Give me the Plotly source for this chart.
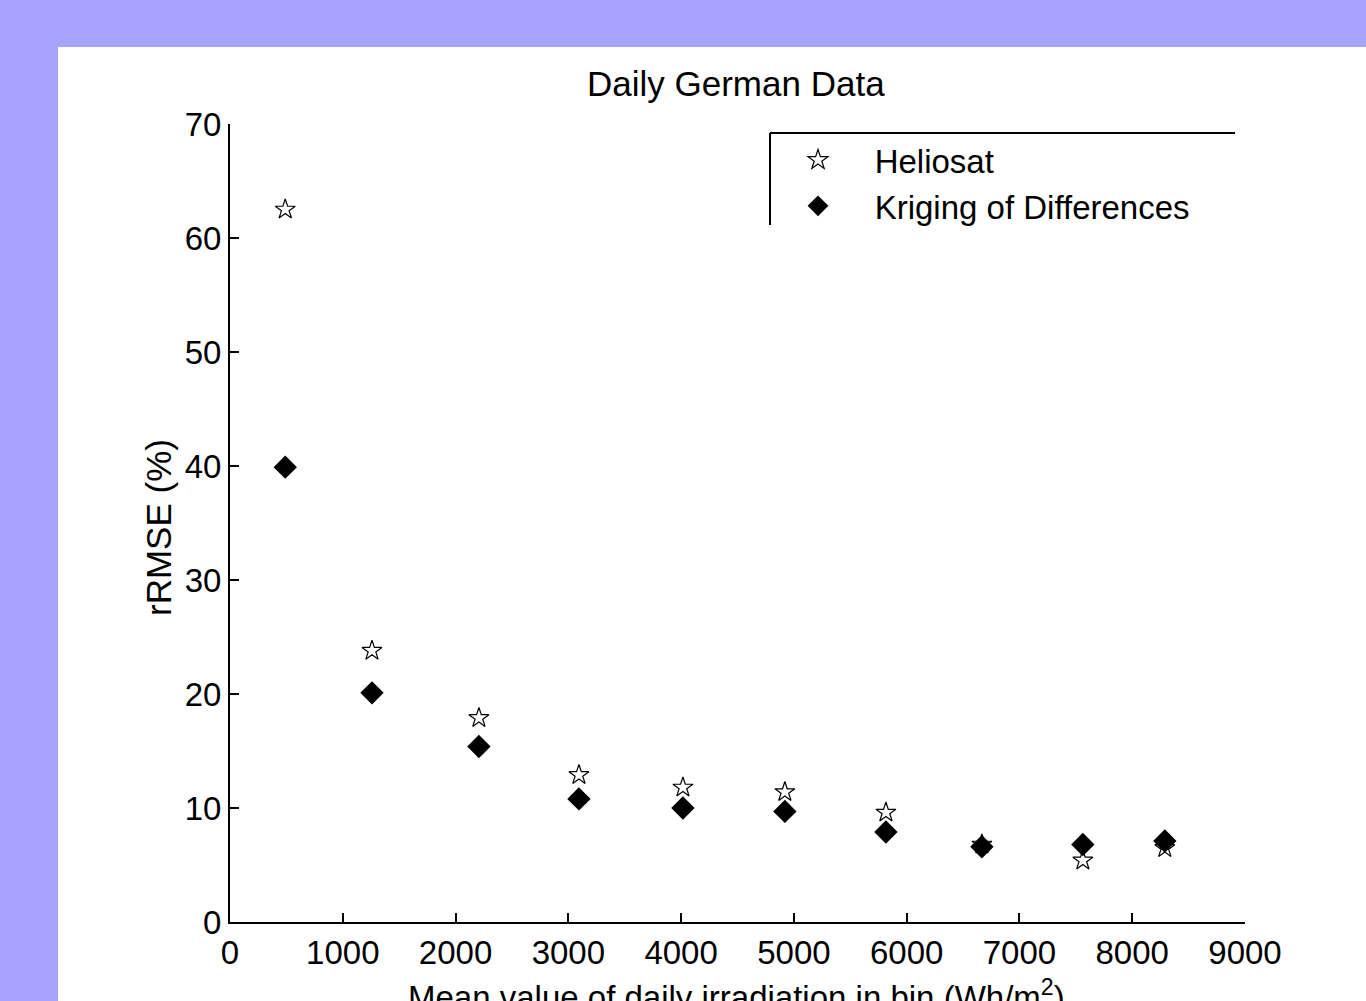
import plotly.graph_objects as go

bin_mean = [490, 1259, 2207, 3094, 4016, 4920, 5816, 6667, 7562, 8289]
heliosat = [62.5, 23.8, 17.9, 12.9, 11.8, 11.4, 9.6, 6.8, 5.4, 6.5]
kriging = [39.9, 20.1, 15.4, 10.8, 10.0, 9.7, 7.9, 6.6, 6.8, 7.1]
x_ticks = [0, 1000, 2000, 3000, 4000, 5000, 6000, 7000, 8000, 9000]
y_ticks = [0, 10, 20, 30, 40, 50, 60, 70]

FONT = "Liberation Sans, Arial, sans-serif"
NB = "\u00a0" * 4

fig = go.Figure()
fig.add_trace(go.Scatter(
    x=bin_mean, y=heliosat, mode="markers", name=NB + "Heliosat",
    marker=dict(symbol="star-open", size=15, color="black", line=dict(width=1.2, color="black")),
))
fig.add_trace(go.Scatter(
    x=bin_mean, y=kriging, mode="markers", name=NB + "Kriging of Differences",
    marker=dict(symbol="diamond", size=18, color="black"),
))

L, R, T, B = 230, 1245, 124, 922
W, H = 1366, 1001
pw, ph = R - L, B - T

def px(x):
    return (x - L) / pw

def py(y):
    return (B - y) / ph

shapes = [
    dict(type="rect", xref="paper", yref="paper", x0=px(58), x1=px(1400), y0=py(1050), y1=py(47),
         fillcolor="white", line=dict(width=0), layer="below"),
    dict(type="line", xref="paper", yref="paper", x0=px(770), x1=px(1235), y0=py(133), y1=py(133),
         line=dict(color="black", width=2)),
    dict(type="line", xref="paper", yref="paper", x0=px(770), x1=px(770), y0=py(133), y1=py(225),
         line=dict(color="black", width=2)),
]

fig.update_layout(
    width=W, height=H,
    margin=dict(l=L, r=W - R, t=T, b=H - B),
    paper_bgcolor="#a5a5ff",
    plot_bgcolor="white",
    font=dict(family=FONT, size=32, color="black"),
    showlegend=True,
    legend=dict(x=px(798), y=py(132), xanchor="left", yanchor="top", tracegroupgap=0,
                bgcolor="rgba(0,0,0,0)", borderwidth=0, font=dict(size=33)),
    shapes=shapes,
    annotations=[
        dict(text="Daily German Data", xref="paper", yref="paper", x=px(736), y=py(83),
             xanchor="center", yanchor="middle", showarrow=False, font=dict(size=35)),
        dict(text="rRMSE (%)", xref="paper", yref="paper", x=px(158), y=py(528),
             xanchor="center", yanchor="middle", showarrow=False, textangle=-90, font=dict(size=35)),
        dict(text="Mean value of daily irradiation in bin (Wh/m<sup>2</sup>)", xref="paper", yref="paper",
             x=px(736), y=py(995), xanchor="center", yanchor="middle", showarrow=False, font=dict(size=33)),
    ],
)
fig.update_xaxes(range=[0, 9000], tickvals=x_ticks, ticktext=[str(v) for v in x_ticks],
                 ticks="inside", ticklen=9, tickwidth=1.5, tickcolor="black",
                 showline=True, linecolor="black", linewidth=2, showgrid=False, zeroline=False,
                 ticklabelstandoff=0, tickfont=dict(size=33))
fig.update_yaxes(range=[0, 70], tickvals=y_ticks, ticktext=[str(v) for v in y_ticks],
                 ticks="inside", ticklen=9, tickwidth=1.5, tickcolor="black",
                 showline=True, linecolor="black", linewidth=2, showgrid=False, zeroline=False,
                 ticklabelstandoff=0, tickfont=dict(size=33))

fig.write_html("out.html")
